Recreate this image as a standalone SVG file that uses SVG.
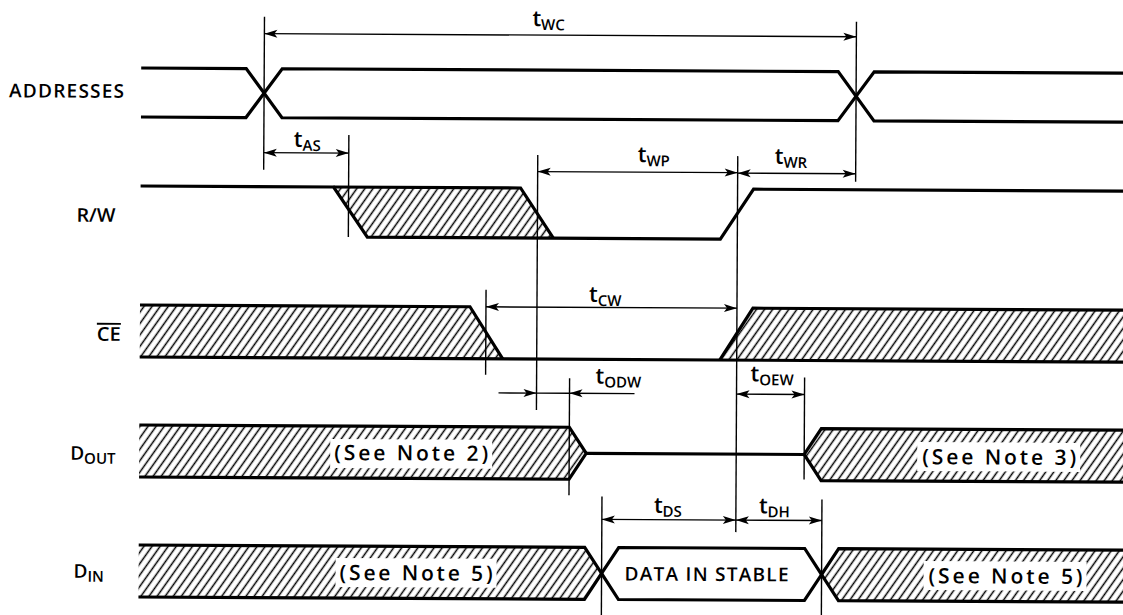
<svg xmlns="http://www.w3.org/2000/svg" width="1123" height="615" viewBox="0 0 1123 615">
<defs>
<style>
.sig{fill:none;stroke:#000;stroke-width:3.2;stroke-linejoin:miter;stroke-linecap:butt}
.hatch{fill:url(#hatch);stroke:none}
.ref{fill:none;stroke:#000;stroke-width:1.4}
.dim{fill:none;stroke:#000;stroke-width:1.4}
.lbl{font-family:"Open Sans","DejaVu Sans",sans-serif;fill:#000;font-weight:600}
.t{font-size:22px}
.sub{font-size:15px}
.name{font-size:19px}
.note{font-size:21px}
.bg{fill:#fff;stroke:none}
</style>
<pattern id="hatch" patternUnits="userSpaceOnUse" width="6.6" height="20" patternTransform="rotate(35)">
<line x1="3.3" y1="-1" x2="3.3" y2="21" stroke="#000" stroke-width="1.5"/>
</pattern>
<marker id="ah" viewBox="-15 -5 16 10" refX="0" refY="0" markerWidth="16" markerHeight="10" markerUnits="userSpaceOnUse" orient="auto-start-reverse">
<path d="M0,0 L-13,-4 L-10,0 L-13,4 Z" fill="#000"/>
</marker>
</defs>
<rect x="0" y="0" width="1123" height="615" fill="#fff"/>
<g transform="rotate(0.3 140 300)">

<g id="sig-addresses">
<text class="lbl name" x="8" y="98" textLength="115" lengthAdjust="spacing">ADDRESSES</text>
<path class="sig" d="M140,68 H245 L281,117 H837 L873,68 H1135"/>
<path class="sig" d="M140,117 H245 L281,68 H837 L873,117 H1135"/>
</g>

<g id="sig-rw">
<text class="lbl name" x="76" y="222" textLength="39" lengthAdjust="spacingAndGlyphs">R/W</text>
<polygon class="hatch" points="333,186 520,186 553,236 367,236"/>
<path class="sig" d="M140,186 H333 L367,236 H720 L753,186 H1135"/>
<path class="sig" d="M333,186 H520 L553,236"/>
</g>

<g id="sig-ce">
<text class="lbl name" x="97" y="341" textLength="24" lengthAdjust="spacingAndGlyphs">CE</text>
<line x1="97" y1="324" x2="121" y2="324" stroke="#000" stroke-width="1.8"/>
<polygon class="hatch" points="140,305 470,305 503,357 140,357"/>
<polygon class="hatch" points="720,357 753,305 1135,305 1135,357"/>
<path class="sig" d="M140,305 H470 L503,357"/>
<path class="sig" d="M140,357 H1135"/>
<path class="sig" d="M720,357 L753,305 H1135"/>
</g>

<g id="sig-dout">
<text class="lbl" x="71" y="460"><tspan font-size="19">D</tspan><tspan font-size="15" dy="4">OUT</tspan></text>
<polygon class="hatch" points="140,425 570,425 587,451 570,477 140,477"/>
<polygon class="hatch" points="805,451 822,425 1135,425 1135,477 822,477"/>
<rect class="bg" x="331" y="438" width="162" height="29"/>
<rect class="bg" x="918" y="438" width="163" height="29"/>
<text class="lbl note" x="335" y="459" textLength="154" lengthAdjust="spacing">(See Note 2)</text>
<text class="lbl note" x="923" y="460" textLength="154" lengthAdjust="spacing">(See Note 3)</text>
<path class="sig" d="M140,425 H570 L587,451 L570,477 H140"/>
<path class="sig" d="M587,451 H805"/>
<path class="sig" d="M1135,425 H822 L805,451 L822,477 H1135"/>
</g>

<g id="sig-din">
<text class="lbl" x="75" y="578"><tspan font-size="19">D</tspan><tspan font-size="15" dy="4">IN</tspan></text>
<polygon class="hatch" points="140,545 586,545 603,571 586,597 140,597"/>
<polygon class="hatch" points="823,571 840,545 1135,545 1135,597 840,597"/>
<rect class="bg" x="337" y="557" width="161" height="29"/>
<rect class="bg" x="925" y="557" width="163" height="29"/>
<text class="lbl note" x="341" y="579" textLength="153" lengthAdjust="spacing">(See Note 5)</text>
<text class="lbl note" x="930" y="579" textLength="154" lengthAdjust="spacing">(See Note 5)</text>
<path class="sig" d="M140,545 H586 L603,571 L586,597 H140"/>
<polygon class="sig" points="603,571 620,545 806,545 823,571 806,597 620,597"/>
<path class="sig" d="M1135,545 H840 L823,571 L840,597 H1135"/>
<text class="lbl name" x="626" y="578" textLength="164" lengthAdjust="spacing">DATA IN STABLE</text>
</g>

<g id="connectors">
<line class="ref" x1="263" y1="16" x2="263" y2="169"/>
<line class="ref" x1="855" y1="18" x2="855" y2="178"/>
<line class="ref" x1="348" y1="134" x2="348" y2="236"/>
<line class="ref" x1="537" y1="153" x2="537" y2="408"/>
<line class="ref" x1="737" y1="153" x2="737" y2="529"/>
<line class="ref" x1="486" y1="288" x2="486" y2="373"/>
<line class="ref" x1="570" y1="376" x2="570" y2="493"/>
<line class="ref" x1="805" y1="374" x2="805" y2="476"/>
<line class="ref" x1="603" y1="494" x2="603" y2="625"/>
<line class="ref" x1="823" y1="496" x2="823" y2="625"/>

<line class="dim" x1="263" y1="33" x2="855" y2="33" marker-start="url(#ah)" marker-end="url(#ah)"/>
<line class="dim" x1="263" y1="152" x2="348" y2="152" marker-start="url(#ah)" marker-end="url(#ah)"/>
<line class="dim" x1="537" y1="169.5" x2="737" y2="169.5" marker-start="url(#ah)" marker-end="url(#ah)"/>
<line class="dim" x1="737" y1="170" x2="855" y2="170" marker-start="url(#ah)" marker-end="url(#ah)"/>
<line class="dim" x1="486" y1="305" x2="737" y2="305" marker-start="url(#ah)" marker-end="url(#ah)"/>
<line class="dim" x1="499" y1="391" x2="537" y2="391" marker-end="url(#ah)"/>
<line class="dim" x1="537" y1="391" x2="570" y2="391"/>
<line class="dim" x1="635" y1="391" x2="570" y2="391" marker-end="url(#ah)"/>
<line class="dim" x1="737" y1="391" x2="805" y2="391" marker-start="url(#ah)" marker-end="url(#ah)"/>
<line class="dim" x1="603" y1="517" x2="737" y2="517" marker-start="url(#ah)" marker-end="url(#ah)"/>
<line class="dim" x1="737" y1="517" x2="823" y2="517" marker-start="url(#ah)" marker-end="url(#ah)"/>
</g>

<g id="timing-labels" class="lbl">
<text class="t" x="531" y="24">t<tspan class="sub" dy="4">WC</tspan></text>
<text class="t" x="293" y="146">t<tspan class="sub" dy="4">AS</tspan></text>
<text class="t" x="637" y="159.5">t<tspan class="sub" dy="4">WP</tspan></text>
<text class="t" x="774" y="160.5">t<tspan class="sub" dy="4">WR</tspan></text>
<text class="t" x="589" y="299.5">t<tspan class="sub" dy="4">CW</tspan></text>
<text class="t" x="596" y="381">t<tspan class="sub" dy="4">ODW</tspan></text>
<text class="t" x="751" y="378">t<tspan class="sub" dy="4">OEW</tspan></text>
<text class="t" x="655" y="510">t<tspan class="sub" dy="4">DS</tspan></text>
<text class="t" x="760" y="510">t<tspan class="sub" dy="4">DH</tspan></text>
</g>

</g>
</svg>
